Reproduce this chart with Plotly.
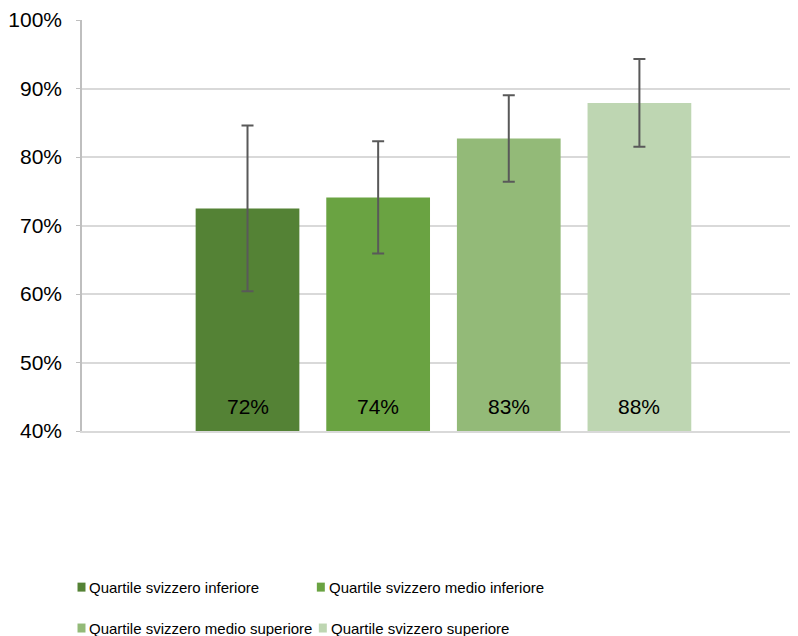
import plotly.graph_objects as go

series = ["Quartile svizzero inferiore", "Quartile svizzero medio inferiore",
          "Quartile svizzero medio superiore", "Quartile svizzero superiore"]
values = [72.5, 74.1, 82.7, 87.9]
errors = [12.1, 8.2, 6.3, 6.4]
labels = ["72%", "74%", "83%", "88%"]
colors = ["#548235", "#6AA342", "#93BA78", "#BED6B2"]
positions = [0, 1, 2, 3]

OFF = 8  # default page body margin
W, H = 798 - OFF, 636 - OFF
ML, MR, MT, MB = 80 - OFF, 0, 19 - OFF, 205
PW, PH = W - ML - MR, H - MT - MB

def px_x(px):
    return (px - OFF - ML) / PW

def px_y(py):
    return (H - MB - (py - OFF)) / PH

fig = go.Figure()
for i, name in enumerate(series):
    fig.add_trace(go.Bar(
        x=[positions[i]], y=[values[i]], name=name, width=0.794,
        marker=dict(color=colors[i], line=dict(width=0)),
        error_y=dict(type="data", array=[errors[i]], color="#595959", thickness=2, width=6),
        showlegend=False, hoverinfo="skip",
    ))
    fig.add_annotation(x=positions[i], y=40, yshift=24.5, text=labels[i], showarrow=False,
                       yanchor="middle", font=dict(family="Liberation Sans, Arial", size=21, color="#000000"))

# custom legend (2 columns x 2 rows)
leg_marker_x = [75.5, 75.5 + 240]
leg_row_y = [587.5, 628.5]
legend_font = dict(family="Liberation Sans, Arial", size=15, color="#000000")
for i, name in enumerate(series):
    row, col = divmod(i, 2)
    mx = leg_marker_x[col] + (2 if (row == 1 and col == 1) else 0)
    cy = leg_row_y[row]
    fig.add_shape(type="rect", xref="paper", yref="paper",
                  x0=px_x(mx), x1=px_x(mx + 8), y0=px_y(cy + 4.5), y1=px_y(cy - 4.5),
                  fillcolor=colors[i], line=dict(width=0))
    fig.add_annotation(xref="paper", yref="paper", x=px_x(mx + 10), y=px_y(cy),
                       xanchor="left", yanchor="middle", text=name, showarrow=False,
                       font=legend_font)

fig.update_layout(
    width=W, height=H,
    margin=dict(l=ML, r=MR, t=MT, b=MB),
    paper_bgcolor="white", plot_bgcolor="white",
    barmode="overlay",
    showlegend=False,
    xaxis=dict(range=[-1.267, 4.214], showticklabels=False, showgrid=False, zeroline=False,
               showline=True, linecolor="#D9D9D9", linewidth=1.5, ticks=""),
    yaxis=dict(range=[40, 100], dtick=10, ticksuffix="%", showgrid=True, gridcolor="#D9D9D9", gridwidth=1.5,
               showline=True, linecolor="#BFBFBF", linewidth=1.5, ticks="outside", ticklen=4,
               tickcolor="#BFBFBF", zeroline=False, ticklabelstandoff=10, ticklabeloverflow="allow",
               tickfont=dict(family="Liberation Sans, Arial", size=21, color="#000000")),
)
fig.write_html("out.html")
